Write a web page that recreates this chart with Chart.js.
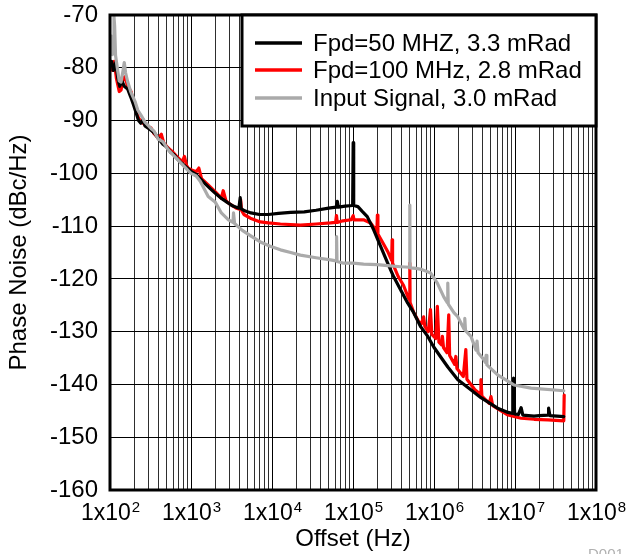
<!DOCTYPE html>
<html>
<head>
<meta charset="utf-8">
<script src="https://cdn.jsdelivr.net/npm/chart.js@4/dist/chart.umd.min.js"></script>
<style>
html,body{margin:0;padding:0;background:#fff;}
#wrap{width:629px;height:554px;position:relative;}
</style>
</head>
<body>
<div id="wrap"><canvas id="c" width="629" height="554"></canvas></div>
<script>
// ---- Data (offset in Hz, phase noise in dBc/Hz) ----
const seriesLabels = ['Fpd=50 MHZ, 3.3 mRad', 'Fpd=100 MHz, 2.8 mRad', 'Input Signal, 3.0 mRad'];

const blackHz = [100,105,110,118,125,132,140,150,165,180,195,210,225,240,255,270,300,330,360,400,450,500,560,620,700,800,900,1000,1150,1300,1500,1700,2000,2400,2800,3300,3900,4050,4150,4600,5500,7000,9000,12000,17000,25000,35000,50000,62000,64000,66000,80000,99000,100500,102000,115000,130000,150000,180000,220000,268000,318000,388000,474000,562000,687000,838000,993000,1210000,1480000,1970000,2850000,3800000,6100000,8200000,9500000,9600000,9900000,11000000,11900000,12500000,17200000,20000000,25600000,26000000,27000000,33000000,40000000];
const blackDb = [-79.5,-78.8,-80.5,-79,-82,-83.5,-82.5,-83.5,-84,-85.5,-87,-88.5,-90,-90.5,-89.8,-91,-91.5,-92,-92.5,-93.5,-94.5,-95,-96,-96.5,-97.5,-98.3,-99,-99.6,-100.2,-101,-102,-102.8,-103.8,-104.8,-105.5,-106.2,-106.6,-104.6,-106.7,-107.1,-107.5,-107.8,-107.8,-107.6,-107.4,-107.3,-107,-106.6,-106.4,-105.3,-106.4,-106.2,-106.1,-94.2,-106.1,-106.3,-107.2,-108.2,-110.7,-113.9,-117,-119.6,-122.1,-124.6,-126.4,-129.1,-130.9,-132.9,-134.8,-136.7,-139.1,-141,-142.5,-144.5,-145.3,-145.5,-138.8,-145.6,-145.7,-144.4,-145.8,-146,-145.9,-145.8,-144.5,-145.9,-146,-146.1];

const redHz = [100,104,108,113,120,130,137,145,153,165,182,195,204,225,242,270,300,321,350,393,430,460,522,600,695,780,830,880,923,1000,1160,1250,1350,1630,2000,2370,2500,2700,3000,3620,4000,4100,4200,4500,5400,7180,9000,12700,22400,35000,52800,61000,62500,64000,75000,95000,100500,103000,135000,165000,190000,197000,200000,203000,240000,268000,300000,304000,308000,360000,420000,480000,500000,503000,507000,560000,640000,700000,745000,770000,850000,905000,940000,1050000,1100000,1150000,1240000,1270000,1310000,1450000,1520000,1560000,1800000,1860000,1920000,2300000,2470000,2550000,3200000,3700000,3800000,3900000,4800000,5050000,5300000,8200000,11900000,17200000,25600000,40000000,40500000];
const redDb = [-80.5,-79,-80.5,-78.8,-82,-84.5,-84.2,-82,-81.7,-83.5,-84.5,-86.5,-87.6,-89.5,-90.2,-90.8,-91.2,-91.4,-92.5,-93.3,-92.6,-94.2,-95.2,-96,-97.1,-97.8,-96.8,-98.5,-99,-99.3,-99.7,-99,-101,-102.2,-103.5,-104.7,-103.3,-105.2,-105.8,-106.6,-106.8,-105,-107,-107.8,-108.5,-109.2,-109.4,-109.6,-109.8,-109.6,-109.4,-109.3,-108,-109.3,-109,-108.8,-108,-108.8,-108.8,-109.4,-110.7,-111.2,-107.9,-111.5,-113.5,-114.8,-116.5,-112.6,-117,-119.5,-121.2,-123.5,-124,-117,-124.5,-126.3,-128,-128.5,-127.2,-129,-130,-125.8,-130.5,-131.3,-125.2,-132,-132.5,-130.9,-133,-134,-126.8,-134.5,-136.2,-134.7,-137,-138.5,-133.4,-139,-141,-141.8,-139.1,-142.2,-143.6,-142.3,-144,-145.8,-146.4,-146.6,-146.7,-146.9,-142];

const grayHz = [100,104,107,110,112,114,117,123,130,137,145,150,156,165,180,204,220,242,270,300,321,350,393,450,522,600,695,800,923,1000,1160,1300,1630,2000,2370,2900,3300,3350,3450,4300,5400,7180,9500,12700,17000,22400,35000,52800,62000,62700,63500,75000,100000,135000,200000,268000,388000,500000,503000,506000,600000,700000,910000,1100000,1320000,1460000,1480000,1500000,1760000,1950000,2350000,2400000,2450000,2860000,3300000,3400000,3500000,4130000,4300000,4400000,4500000,6100000,9700000,15800000,40000000];
const grayDb = [-77,-74,-77.5,-76,-70.3,-72,-77.6,-80,-82.5,-82.7,-80.5,-79,-81,-82.6,-84.5,-86.4,-88,-89,-90.3,-91,-91.5,-92,-93.5,-94,-95.5,-96.5,-97.5,-98.5,-99.5,-100,-100.5,-101.5,-104.4,-105.5,-107.5,-108.8,-109.3,-107.5,-109.5,-110.8,-111.8,-113,-113.8,-114.5,-115,-115.5,-116,-116.4,-116.6,-112,-116.7,-117,-117,-117.2,-117.3,-117.5,-117.7,-117.8,-106,-117.9,-118,-118.2,-118.9,-120.8,-123.4,-124.5,-120.8,-124.8,-126.4,-127.1,-129.5,-127.5,-129.8,-130.9,-133.5,-131.8,-134,-135.3,-135.8,-134.5,-136.3,-138.2,-140.1,-140.7,-141.2];

const seriesColors = ['#000000', '#ff0000', '#aaaaaa'];

// x tick labels: "1x10" with superscript exponent
const xTickValues = [1e2, 1e3, 1e4, 1e5, 1e6, 1e7, 1e8];
const xTickBase = '1x10';
const xTickExponents = ['2', '3', '4', '5', '6', '7', '8'];
const yMin = -160, yMax = -70;

const FONT = "'Liberation Sans', Arial, sans-serif";

function pts(hz, db) { return hz.map((f, i) => ({x: f, y: db[i]})); }
function isDecade(v) { return xTickValues.some(tv => Math.abs(tv - v) / tv < 1e-6); }

const framePlugin = {
  id: 'frameAndLegend',
  afterDatasetsDraw(chart) {
    const {ctx, chartArea: a} = chart;
    ctx.save();
    ctx.strokeStyle = '#000';
    ctx.lineWidth = 3;
    ctx.strokeRect(a.left, a.top, a.right - a.left, a.bottom - a.top);
    // legend box
    const bx = a.right - 354, by = a.top, bw = 354, bh = 111;
    ctx.fillStyle = '#fff';
    ctx.fillRect(bx, by, bw, bh);
    ctx.strokeRect(bx, by, bw, bh);
    const rows = [by + 28, by + 55, by + 83];
    chart.data.datasets.forEach((ds, i) => {
      ctx.strokeStyle = ds.borderColor;
      ctx.lineWidth = 3.5;
      ctx.beginPath();
      ctx.moveTo(bx + 13, rows[i]);
      ctx.lineTo(bx + 60, rows[i]);
      ctx.stroke();
      ctx.fillStyle = '#000';
      ctx.font = '24px ' + FONT;
      ctx.textBaseline = 'middle';
      ctx.textAlign = 'left';
      ctx.fillText(ds.label, bx + 71, rows[i] + 1);
    });
    // x tick labels with superscript exponents
    const xs = chart.scales.x;
    ctx.fillStyle = '#000';
    ctx.textBaseline = 'alphabetic';
    ctx.textAlign = 'left';
    xTickValues.forEach((v, i) => {
      const px = xs.getPixelForValue(v);
      ctx.font = '23px ' + FONT;
      const w1 = ctx.measureText(xTickBase).width;
      ctx.font = '15px ' + FONT;
      const w2 = ctx.measureText(xTickExponents[i]).width;
      const x0 = px - (w1 + w2) / 2;
      ctx.font = '23px ' + FONT;
      ctx.fillText(xTickBase, x0, a.bottom + 30);
      ctx.font = '15px ' + FONT;
      ctx.fillText(xTickExponents[i], x0 + w1 + 1, a.bottom + 22);
    });
    // figure id
    ctx.fillStyle = '#b0b0b0';
    ctx.font = '15px ' + FONT;
    ctx.fillText('D001', 588, 559);
    ctx.restore();
  }
};

new Chart(document.getElementById('c'), {
  type: 'line',
  data: {
    datasets: [
      {label: seriesLabels[0], data: pts(blackHz, blackDb), borderColor: seriesColors[0], order: 1},
      {label: seriesLabels[1], data: pts(redHz, redDb), borderColor: seriesColors[1], order: 2},
      {label: seriesLabels[2], data: pts(grayHz, grayDb), borderColor: seriesColors[2], order: 0}
    ].map(d => Object.assign(d, {borderWidth: 3.2, pointRadius: 0, tension: 0, fill: false, borderJoinStyle: 'round', borderCapStyle: 'round'}))
  },
  options: {
    responsive: false,
    animation: false,
    events: [],
    layout: {padding: {top: 15, right: 33, left: 0, bottom: 0}},
    plugins: {legend: {display: false}, tooltip: {enabled: false}},
    scales: {
      x: {
        type: 'logarithmic',
        min: 1e2, max: 1e8,
        afterBuildTicks(scale) {
          const t = [];
          for (let e = 2; e < 8; e++) for (let d = 1; d < 10; d++) t.push({value: d * Math.pow(10, e)});
          t.push({value: 1e8});
          scale.ticks = t;
        },
        afterFit(scale) { scale.height = 64; scale.paddingLeft = 0; scale.paddingRight = 0; },
        ticks: {
          autoSkip: false, maxRotation: 0, padding: 9,
          font: {family: FONT, size: 23},
          callback() { return ''; }
        },
        grid: {
          drawTicks: false,
          color: c => (c.tick && isDecade(c.tick.value)) ? '#000' : '#2e2e2e',
          lineWidth: 1
        },
        border: {display: false},
        title: {display: true, text: 'Offset (Hz)', color: '#000', font: {family: FONT, size: 24}, padding: {top: 0, bottom: 0}}
      },
      y: {
        min: yMin, max: yMax,
        afterFit(scale) { scale.width = 110; scale.paddingTop = 0; scale.paddingBottom = 0; },
        ticks: {
          stepSize: 5, padding: 12, color: '#000',
          font: {family: FONT, size: 24},
          callback(v) { return v % 10 === 0 ? String(v) : ''; }
        },
        grid: {drawTicks: false, color: '#000', lineWidth: 1},
        border: {display: false},
        title: {display: true, text: 'Phase Noise (dBc/Hz)', color: '#000', font: {family: FONT, size: 24}, padding: {top: 5, bottom: 0}}
      }
    }
  },
  plugins: [framePlugin]
});
</script>
</body>
</html>
